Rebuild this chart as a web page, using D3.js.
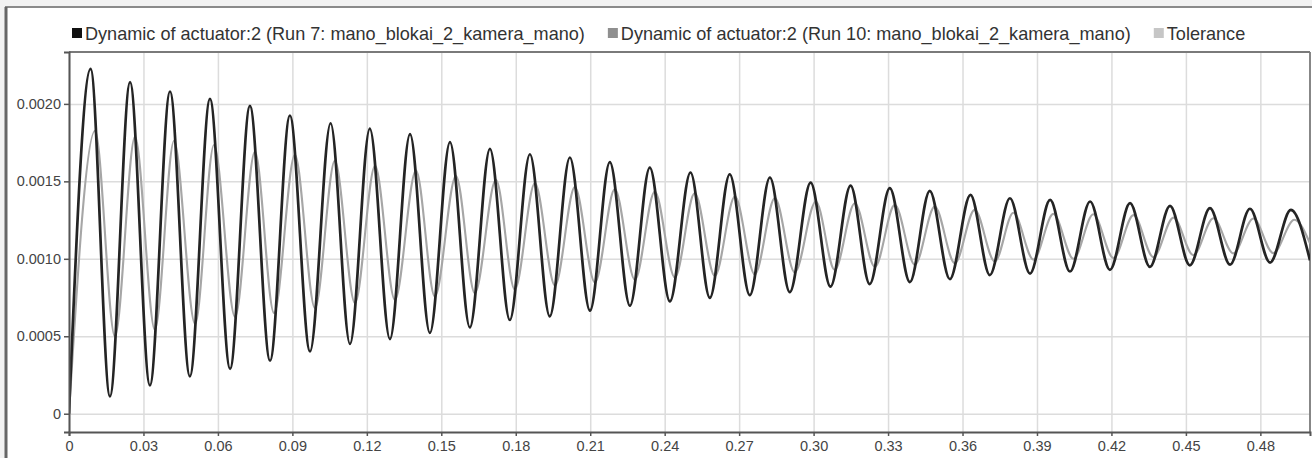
<!DOCTYPE html>
<html><head><meta charset="utf-8">
<script src="https://cdn.jsdelivr.net/npm/d3@7/dist/d3.min.js"></script>
<style>
html,body{margin:0;padding:0;background:#f2f2f2;overflow:hidden;}
svg{display:block;font-family:"Liberation Sans",Arial,sans-serif;}
</style>
</head><body>
<svg id="chart" width="1312" height="458"></svg>
<script>
// ---------------- data ----------------
const xTicks = [0,0.03,0.06,0.09,0.12,0.15,0.18,0.21,0.24,0.27,0.30,0.33,0.36,0.39,0.42,0.45,0.48];
const xTickLabels = ["0","0.03","0.06","0.09","0.12","0.15","0.18","0.21","0.24","0.27","0.30","0.33","0.36","0.39","0.42","0.45","0.48"];
const yTicks = [0,0.0005,0.0010,0.0015,0.0020];
const yTickLabels = ["0","0.0005","0.0010","0.0015","0.0020"];
const legendLabels = [
  "Dynamic of actuator:2 (Run 7: mano_blokai_2_kamera_mano)",
  "Dynamic of actuator:2 (Run 10: mano_blokai_2_kamera_mano)",
  "Tolerance"
];

// Run 7 (black): start, local maxima, local minima, end
const run7Start = [0, 0];
const run7PeakT = [0.0087,0.0246,0.0407,0.0568,0.0729,0.0890,0.1054,0.1212,0.1374,0.1535,0.1696,0.1857,0.2018,0.2179,0.2340,0.2504,0.2662,0.2824,0.2988,0.3149,0.3307,0.3468,0.3632,0.3791,0.3953,0.4114,0.4275,0.4436,0.4597,0.4758,0.4923];
const run7PeakV = [0.002226,0.002140,0.002080,0.002032,0.001987,0.001925,0.001875,0.001841,0.001805,0.001753,0.001710,0.001675,0.001654,0.001624,0.001589,0.001557,0.001546,0.001525,0.001492,0.001473,0.001456,0.001439,0.001413,0.001391,0.001381,0.001370,0.001359,0.001342,0.001327,0.001323,0.001316];
const run7TroughT = [0.0165,0.0326,0.0487,0.0649,0.0810,0.0971,0.1132,0.1293,0.1454,0.1615,0.1776,0.1937,0.2099,0.2260,0.2421,0.2582,0.2743,0.2904,0.3068,0.3226,0.3388,0.3549,0.3710,0.3872,0.4033,0.4194,0.4355,0.4516,0.4678,0.4839];
const run7TroughV = [0.000112,0.000183,0.000241,0.000290,0.000342,0.000402,0.000450,0.000482,0.000521,0.000557,0.000605,0.000628,0.000665,0.000697,0.000725,0.000748,0.000765,0.000785,0.000820,0.000837,0.000850,0.000869,0.000895,0.000905,0.000918,0.000929,0.000948,0.000958,0.000962,0.000976];
const run7End = [0.5, 0.00099];

// Run 10 (grey)
const run10Start = [0, 0];
const run10PeakT = [0.0105,0.0266,0.0423,0.0584,0.0749,0.0910,0.1071,0.1233,0.1398,0.1559,0.1720,0.1877,0.2038,0.2199,0.2360,0.2521,0.2683,0.2844,0.3009,0.3166,0.3327,0.3488,0.3649,0.3805,0.3966,0.4127,0.4289,0.4450,0.4611,0.4772,0.4937];
const run10PeakV = [0.001826,0.001789,0.001761,0.001735,0.001692,0.001671,0.001632,0.001600,0.001570,0.001535,0.001510,0.001488,0.001463,0.001450,0.001434,0.001424,0.001402,0.001392,0.001370,0.001359,0.001348,0.001337,0.001316,0.001297,0.001290,0.001288,0.001282,0.001266,0.001262,0.001260,0.001252];
const run10TroughT = [0.0185,0.0346,0.0508,0.0669,0.0826,0.0991,0.1152,0.1313,0.1474,0.1635,0.1796,0.1958,0.2119,0.2280,0.2441,0.2602,0.2763,0.2924,0.3085,0.3247,0.3408,0.3569,0.3730,0.3886,0.4047,0.4208,0.4369,0.4530,0.4691,0.4852];
const run10TroughV = [0.000499,0.000542,0.000579,0.000625,0.000650,0.000682,0.000714,0.000735,0.000757,0.000779,0.000802,0.000828,0.000847,0.000865,0.000880,0.000890,0.000899,0.000912,0.000929,0.000948,0.000961,0.000972,0.000983,0.000995,0.001000,0.001005,0.001011,0.001024,0.001035,0.001037];
const run10End = [0.5, 0.00110];

// ---------------- build series ----------------
function buildSeries(start, pT, pV, tT, tV, end) {
  const pts = [start];
  pT.forEach((t, i) => pts.push([t, pV[i]]));
  tT.forEach((t, i) => pts.push([t, tV[i]]));
  pts.sort((a, b) => a[0] - b[0]);
  pts.push(end);
  return pts;
}
const run7 = buildSeries(run7Start, run7PeakT, run7PeakV, run7TroughT, run7TroughV, run7End);
const run10 = buildSeries(run10Start, run10PeakT, run10PeakV, run10TroughT, run10TroughV, run10End);

// ---------------- layout ----------------
const svg = d3.select("#chart");
const W = 1312, H = 458;
const plot = {left: 69, right: 1310, top: 52, bottom: 432};

const x = d3.scaleLinear().domain([0, 0.5]).range([plot.left, plot.right]);
const y = d3.scaleLinear().domain([-0.000118, 0.002335]).range([plot.bottom, plot.top]);

// outer frame
svg.append("rect").attr("x", 6).attr("y", 7).attr("width", W + 10).attr("height", H + 10)
  .attr("fill", "#ffffff").attr("stroke", "#8a8a8a").attr("stroke-width", 2);
svg.append("line").attr("x1", 6).attr("x2", 6).attr("y1", 7).attr("y2", H)
  .attr("stroke", "#666666").attr("stroke-width", 3);

// grid
const grid = svg.append("g");
grid.append("g").attr("transform", `translate(0,${plot.bottom})`)
  .call(d3.axisBottom(x).tickValues(xTicks).tickSize(-(plot.bottom - plot.top)).tickFormat(""))
  .call(g => g.select(".domain").remove())
  .call(g => g.selectAll("line").attr("stroke", "#dcdcdc").attr("stroke-width", 1.5));
grid.append("g").attr("transform", `translate(${plot.left},0)`)
  .call(d3.axisLeft(y).tickValues(yTicks).tickSize(-(plot.right - plot.left)).tickFormat(""))
  .call(g => g.select(".domain").remove())
  .call(g => g.selectAll("line").attr("stroke", "#dcdcdc").attr("stroke-width", 1.5));

// plot box
svg.append("line").attr("x1", plot.left).attr("x2", plot.right).attr("y1", plot.top).attr("y2", plot.top)
  .attr("stroke", "#7a7a7a").attr("stroke-width", 1.8);
svg.append("line").attr("x1", plot.right).attr("x2", plot.right).attr("y1", plot.top).attr("y2", plot.bottom)
  .attr("stroke", "#7a7a7a").attr("stroke-width", 1.8);

// clip
svg.append("defs").append("clipPath").attr("id", "clip")
  .append("rect").attr("x", plot.left).attr("y", plot.top)
  .attr("width", plot.right - plot.left).attr("height", plot.bottom - plot.top);

const line = d3.line().x(d => x(d[0])).y(d => y(d[1])).curve(d3.curveMonotoneX);
const lines = svg.append("g").attr("clip-path", "url(#clip)");
lines.append("path").datum(run10).attr("d", line)
  .attr("fill", "none").attr("stroke", "#a6a6a6").attr("stroke-width", 2.1);
lines.append("path").datum(run7).attr("d", line)
  .attr("fill", "none").attr("stroke", "#242424").attr("stroke-width", 2.7);

// axes
const xAxis = svg.append("g").attr("transform", `translate(0,${plot.bottom})`)
  .call(d3.axisBottom(x).tickValues(xTicks).tickSize(4).tickPadding(4)
    .tickFormat((d, i) => xTickLabels[i]));
const yAxis = svg.append("g").attr("transform", `translate(${plot.left},0)`)
  .call(d3.axisLeft(y).tickValues(yTicks).tickSize(5).tickPadding(3)
    .tickFormat((d, i) => yTickLabels[i]));
[xAxis, yAxis].forEach(a => {
  a.select(".domain").attr("stroke", "#555555").attr("stroke-width", 2);
  a.selectAll(".tick line").attr("stroke", "#555555").attr("stroke-width", 1.5);
  a.selectAll(".tick text").attr("fill", "#444444").attr("font-size", 14.5)
    .attr("font-family", "'Liberation Sans', Arial, sans-serif");
});
xAxis.selectAll(".tick text").attr("dy", "0.75em");

// legend
const legendColors = ["#111111", "#8f8f8f", "#c6c6c6"];
const legend = svg.append("g");
let lx = 72;
legendLabels.forEach((lab, i) => {
  legend.append("rect").attr("x", lx).attr("y", 28).attr("width", 10).attr("height", 10)
    .attr("fill", legendColors[i]);
  const t = legend.append("text").attr("x", lx + 13).attr("y", 39.5)
    .attr("font-size", 18.1).attr("fill", "#333333").text(lab);
  lx += 13 + t.node().getComputedTextLength() + 23;
});
</script>
</body></html>
